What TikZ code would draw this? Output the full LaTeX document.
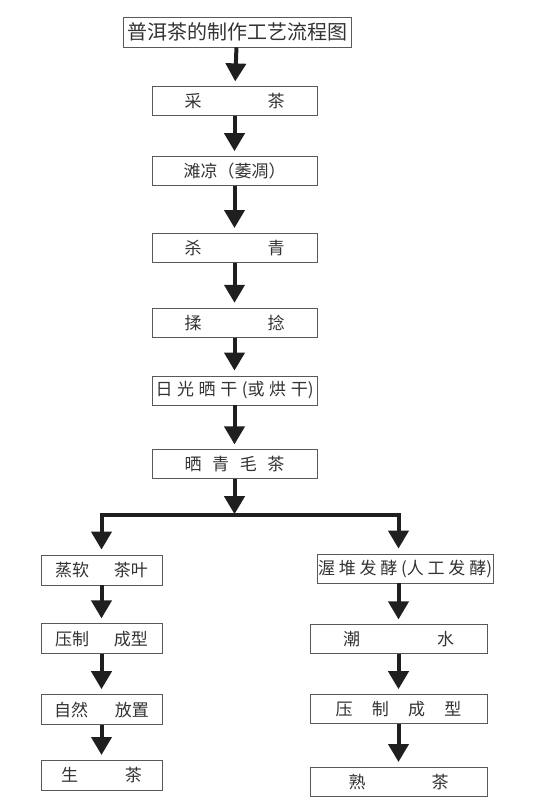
\documentclass[tikz,border=0pt]{standalone}
\usepackage{fontspec}
\newfontfamily\cjk{Noto Sans CJK SC}
\usetikzlibrary{positioning,arrows.meta}
\definecolor{inkgray}{HTML}{333333}
\tikzstyle{tea chart}=[
    x=1pt,y=1pt,
    every node/.style={
        font=\cjk\fontsize{17}{20}\selectfont,
        text=inkgray,
    }]
\tikzstyle{stepbox}=[draw=black!65, line width=0.8pt, inner sep=1pt,
    minimum width=165pt, minimum height=29pt]
\tikzstyle{flow}=[draw=black!88, line width=4pt,
    -{Triangle[width=20pt,length=18pt]}, shorten >=5pt]
\newcommand{\steptext}[2]{\makebox[#1]{#2}}

\begin{document}
\begin{tikzpicture}[tea chart]
        \useasboundingbox (0,0) rectangle (546,-804);
        \node[stepbox, minimum width=228pt, minimum height=30pt, font=\cjk\fontsize{20}{22}\selectfont] (title) at (237,-32) {普洱茶的制作工艺流程图};
        \node[stepbox, below=39pt of title, xshift=-2.5pt] (caicha) {\steptext{100pt}{采\hfill{}茶}};
        \node[stepbox, below=40pt of caicha] (tanliang) {滩凉（萎凋）};
        \node[stepbox, below=47pt of tanliang] (shaqing) {\steptext{100pt}{杀\hfill{}青}};
        \node[stepbox, below=45pt of shaqing] (rounian) {\steptext{100pt}{揉\hfill{}捻}};
        \node[stepbox, below=38pt of rounian] (shaigan) {\steptext{158pt}{日\hfill{}光\hfill{}晒\hfill{}干\hfill{}(或\hfill{}烘\hfill{}干)}};
        \node[stepbox, below=44pt of shaigan] (maocha) {\steptext{100pt}{晒\hfill{}青\hfill{}毛\hfill{}茶}};
        \coordinate[below=36pt of maocha] (fork);

        % raw tea branch
        \node[stepbox, minimum width=121pt, minimum height=30pt] (zhengruan) at (101.5,-570) {\steptext{93pt}{蒸软\hfill{}茶叶}};
        \node[stepbox, minimum width=121pt, minimum height=30pt, below=38pt of zhengruan] (yazhiL) {\steptext{93pt}{压制\hfill{}成型}};
        \node[stepbox, minimum width=121pt, minimum height=30pt, below=40pt of yazhiL] (ziran) {\steptext{95pt}{自然\hfill{}放置}};
        \node[stepbox, minimum width=121pt, minimum height=30pt, below=35pt of ziran] (shengcha) {\steptext{81pt}{生\hfill{}茶}};

        % ripe tea branch
        \node[stepbox, minimum width=176pt] (wodui) at (405,-568.5) {\steptext{174pt}{渥\hfill{}堆\hfill{}发\hfill{}酵\hfill{}(人\hfill{}工\hfill{}发\hfill{}酵)}};
        \node[stepbox, minimum width=177pt, below=41pt of wodui, xshift=-6.5pt] (chaoshui) {\steptext{111pt}{潮\hfill{}水}};
        \node[stepbox, minimum width=177pt, below=40pt of chaoshui] (yazhiR) {\steptext{126pt}{压\hfill{}制\hfill{}成\hfill{}型}};
        \node[stepbox, minimum width=177pt, below=43pt of yazhiR] (shucha) {\steptext{100pt}{熟\hfill{}茶}};

        \path
            (title) edge[flow] (caicha)
            (caicha) edge[flow] (tanliang)
            (tanliang) edge[flow] (shaqing)
            (shaqing) edge[flow] (rounian)
            (rounian) edge[flow] (shaigan)
            (shaigan) edge[flow] (maocha)
            (maocha) edge[flow, shorten >=1pt] (fork)
            (zhengruan) edge[flow] (yazhiL)
            (yazhiL) edge[flow] (ziran)
            (ziran) edge[flow] (shengcha)
            (wodui.south -| chaoshui.north) edge[flow] (chaoshui)
            (chaoshui) edge[flow] (yazhiR)
            (yazhiR) edge[flow] (shucha)
        ;
        \draw[flow] (fork) -| (zhengruan.north);
        \draw[flow] (fork) -| (wodui.north -| chaoshui.north);
    \end{tikzpicture}
\end{document}
